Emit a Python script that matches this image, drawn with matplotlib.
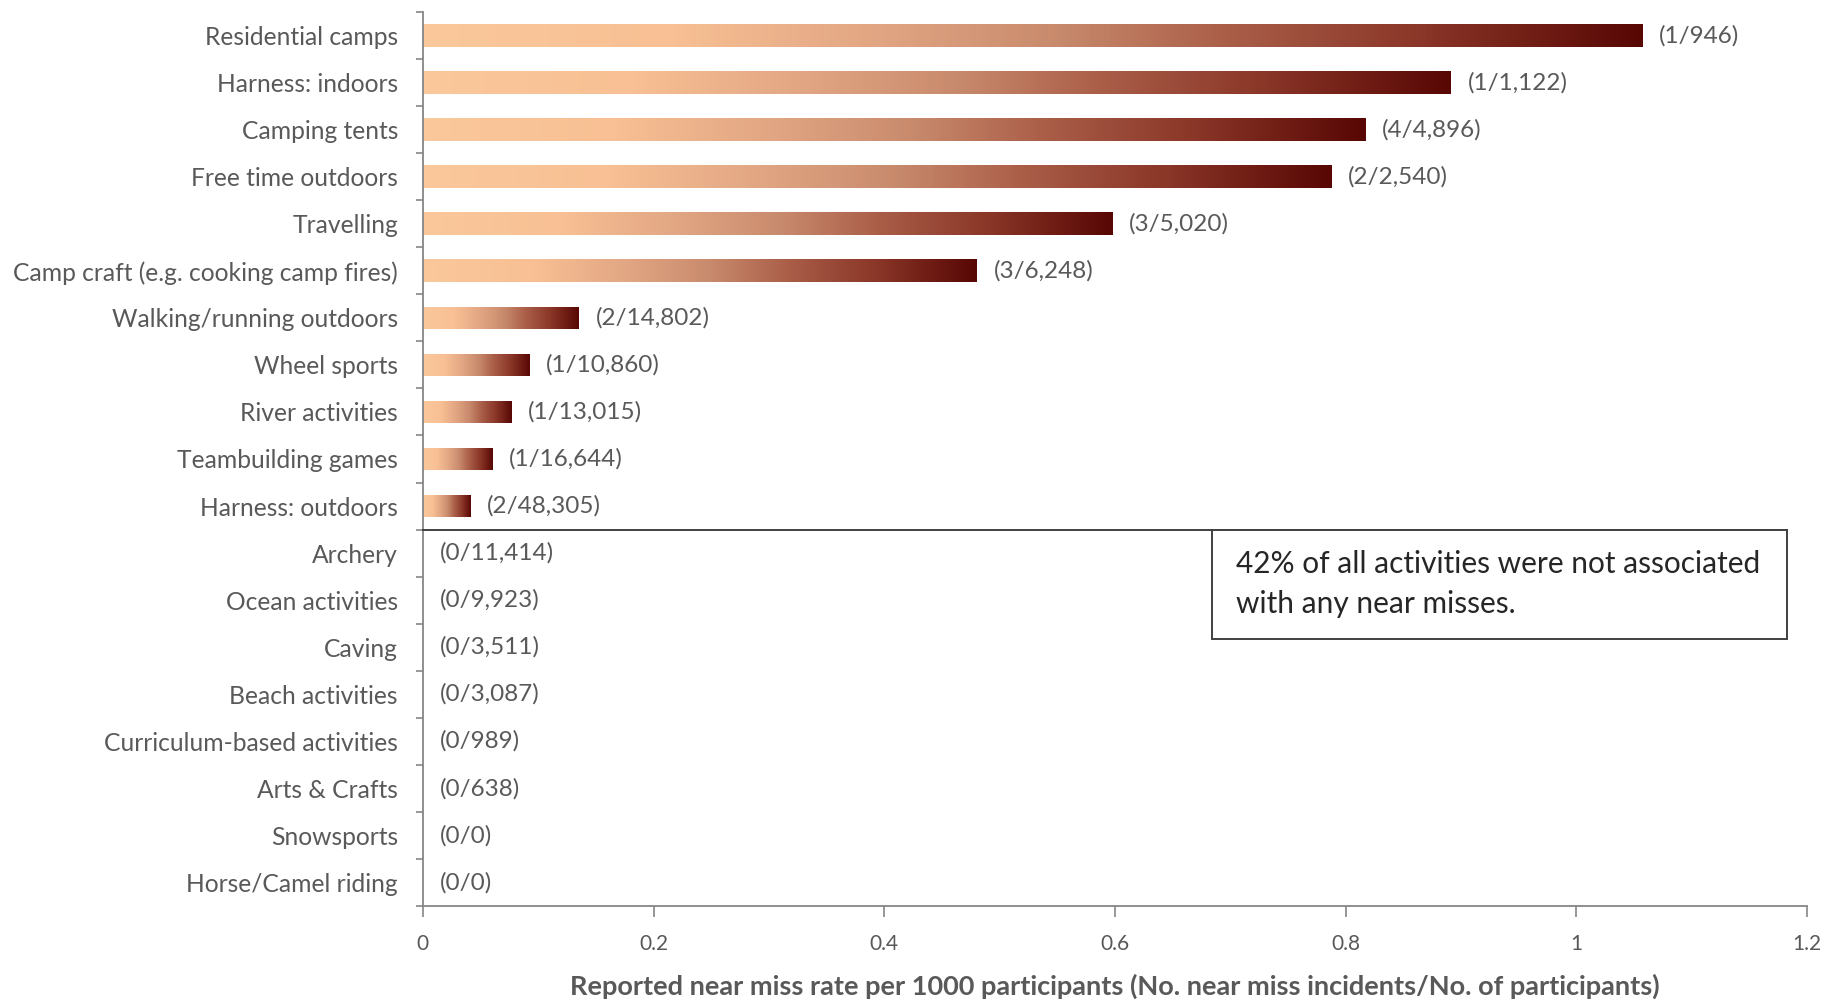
import matplotlib
matplotlib.use("Agg")
import matplotlib.pyplot as plt
import numpy as np
from matplotlib.colors import LinearSegmentedColormap

plt.rcParams['font.family'] = ['Lato', 'DejaVu Sans']

# Activities, top to bottom
activities = [
    "Residential camps", "Harness: indoors", "Camping tents", "Free time outdoors",
    "Travelling", "Camp craft (e.g. cooking camp fires)", "Walking/running outdoors",
    "Wheel sports", "River activities", "Teambuilding games", "Harness: outdoors",
    "Archery", "Ocean activities", "Caving", "Beach activities",
    "Curriculum-based activities", "Arts & Crafts", "Snowsports", "Horse/Camel riding",
]
# Number of near miss incidents and number of participants
incidents = [1, 1, 4, 2, 3, 3, 2, 1, 1, 1, 2, 0, 0, 0, 0, 0, 0, 0, 0]
participants = [946, 1122, 4896, 2540, 5020, 6248, 14802, 10860, 13015, 16644, 48305,
                11414, 9923, 3511, 3087, 989, 638, 0, 0]

x_ticks = [0, 0.2, 0.4, 0.6, 0.8, 1, 1.2]
x_tick_labels = ["0", "0.2", "0.4", "0.6", "0.8", "1", "1.2"]
x_title = "Reported near miss rate per 1000 participants (No. near miss incidents/No. of participants)"
note = "42% of all activities were not associated\nwith any near misses."

rates = [i / p * 1000 if p > 0 else 0.0 for i, p in zip(incidents, participants)]
labels = [f"({i}/{p:,})" for i, p in zip(incidents, participants)]

TEXT = "#595959"
AXIS = "#868686"

grad = LinearSegmentedColormap.from_list("peach_maroon", [
    (0.00, "#FAC89B"), (0.20, "#F8C094"), (0.38, "#E0A482"), (0.52, "#C88A6C"),
    (0.66, "#AA5E48"), (0.82, "#8A3628"), (1.00, "#580704"),
])

fig = plt.figure(figsize=(18.42, 10), dpi=100)
ax = fig.add_axes([0.2296, 0.094, 0.7514, 0.894])

y = np.arange(len(activities))
bars = ax.barh(y, rates, height=0.48, color="none", edgecolor="none")
gradient = np.linspace(0, 1, 256).reshape(1, -1)
for bar in bars:
    w = bar.get_width()
    if w <= 0:
        continue
    y0 = bar.get_y()
    h = bar.get_height()
    im = ax.imshow(gradient, cmap=grad, aspect="auto", interpolation="bicubic",
                   extent=[0, w, y0 + h, y0], zorder=2)
    im.set_clip_path(bar)

for yi, r, lab in zip(y, rates, labels):
    ax.annotate(lab, xy=(r, yi), xytext=(12, 0), textcoords="offset points",
                ha="left", va="center", fontsize=17.5, color=TEXT)

ax.set_xlim(0, 1.2)
ax.set_ylim(len(activities) - 0.5, -0.5)

ax.set_xticks(x_ticks)
ax.set_xticklabels(x_tick_labels, fontsize=15, color=TEXT)
ax.tick_params(axis="x", direction="out", length=8, width=1.2, color=AXIS, pad=12)

# category labels centred, ticks at category boundaries
ax.set_yticks(y)
ax.set_yticklabels(activities, fontsize=17.7, color=TEXT)
ax.tick_params(axis="y", which="major", length=0, pad=18)
ax.set_yticks(np.arange(-0.5, len(activities), 1), minor=True)
ax.tick_params(axis="y", which="minor", direction="out", length=5, width=1.2, color=AXIS)

for side in ("top", "right"):
    ax.spines[side].set_visible(False)
for side in ("left", "bottom"):
    ax.spines[side].set_color(AXIS)
    ax.spines[side].set_linewidth(1.3)

ax.set_xlabel(x_title, fontsize=19.5, fontweight="bold", color=TEXT, labelpad=14)

# divider between activities with and without near misses, plus note box
n_with = sum(1 for i in incidents if i > 0)
div_y = n_with - 0.5
box_left, box_right = 0.684, 1.183
box_bottom = div_y + 2.33
ax.plot([0, box_right], [div_y, div_y], color="#404040", lw=1.4, zorder=3,
        clip_on=False)
ax.add_patch(plt.Rectangle((box_left, div_y), box_right - box_left, box_bottom - div_y,
                           facecolor="white", edgecolor="#404040", lw=1.4, zorder=3))
ax.text(box_left + 0.021, div_y + 1.16, note, fontsize=21.5, color="#262626",
        ha="left", va="center", linespacing=1.55, zorder=4)

fig.savefig("out.png", dpi=100, facecolor="white")
